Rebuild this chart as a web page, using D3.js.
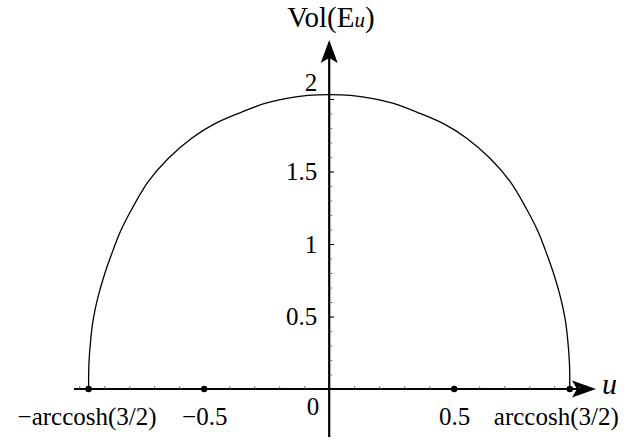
<!DOCTYPE html>
<html>
<head>
<meta charset="utf-8">
<script src="https://cdn.jsdelivr.net/npm/d3@7"></script>
<style>
  body { margin: 0; background: #fff; }
  svg { display: block; font-family: "Liberation Serif", "DejaVu Serif", serif; }
</style>
</head>
<body>
<svg id="chart" width="626" height="441"></svg>
<script>
// curve: u and Vol(E_u)
const uValues = [
  -0.9624, -0.961, -0.954, -0.944, -0.924, -0.897, -0.864, -0.837, -0.79,
  -0.724, -0.644, -0.55, -0.457, -0.35, -0.257, -0.17, -0.085, 0,
  0.085, 0.17, 0.257, 0.35, 0.457, 0.55, 0.644, 0.724, 0.79,
  0.837, 0.864, 0.897, 0.924, 0.944, 0.954, 0.961, 0.9624
];
const volValues = [
  0, 0.18, 0.34, 0.48, 0.64, 0.8, 0.96, 1.08, 1.24,
  1.43, 1.59, 1.73, 1.83, 1.91, 1.97, 2.005, 2.025, 2.03,
  2.025, 2.005, 1.97, 1.91, 1.83, 1.73, 1.59, 1.43, 1.24,
  1.08, 0.96, 0.8, 0.64, 0.48, 0.34, 0.18, 0
];
const xTicks = [-0.9624, -0.5, 0.5, 0.9624];
const xTickLabels = ["\u2212arccosh(3/2)", "\u22120.5", "0.5", "arccosh(3/2)"];
const yTicks = [0.5, 1, 1.5, 2];
const yTickLabels = ["0.5", "1", "1.5", "2"];

const svg = d3.select("#chart");
const x = d3.scaleLinear().domain([-1, 1]).range([79.2, 579.2]);
const y = d3.scaleLinear().domain([0, 2]).range([389, 99]);
const x0 = x(0);
const y0 = y(0);

// axis lines with arrow heads
svg.append("line")
  .attr("x1", 74).attr("x2", 580)
  .attr("y1", y0).attr("y2", y0)
  .attr("stroke", "#000").attr("stroke-width", 2.2);
svg.append("path")
  .attr("d", `M596,${y0} L572,${y0 - 8.5} L577,${y0} L572,${y0 + 8.5} Z`)
  .attr("fill", "#000");

svg.append("line")
  .attr("x1", x0).attr("x2", x0)
  .attr("y1", 437).attr("y2", 56)
  .attr("stroke", "#000").attr("stroke-width", 2.2);
svg.append("path")
  .attr("d", `M${x0},40 L${x0 - 8.5},63 L${x0},58 L${x0 + 8.5},63 Z`)
  .attr("fill", "#000");

// minor ticks
const minorX = d3.range(-10, 11).filter((i) => i !== 0).map((i) => i / 10);
svg.append("g")
  .attr("transform", `translate(0,${y0})`)
  .call(d3.axisTop(x).tickValues(minorX).tickSize(3).tickFormat(""))
  .call((g) => g.select(".domain").remove())
  .selectAll("line").attr("stroke", "#555").attr("stroke-width", 0.8);

const minorY = d3.range(1, 21).map((i) => i / 10);
svg.append("g")
  .attr("transform", `translate(${x0},0)`)
  .call(d3.axisRight(y).tickValues(minorY).tickSize(3).tickFormat(""))
  .call((g) => g.select(".domain").remove())
  .selectAll("line").attr("stroke", "#555").attr("stroke-width", 0.8);

svg.append("g")
  .attr("transform", `translate(${x0},0)`)
  .call(d3.axisRight(y).tickValues(yTicks).tickSize(5).tickFormat(""))
  .call((g) => g.select(".domain").remove())
  .selectAll("line").attr("stroke", "#000").attr("stroke-width", 1);

// y tick labels
const yAxis = svg.append("g")
  .attr("transform", `translate(${x0 - 12},0)`)
  .call(d3.axisLeft(y).tickValues(yTicks).tickSize(0).tickPadding(0)
    .tickFormat((d, i) => yTickLabels[i]));
yAxis.select(".domain").remove();
yAxis.selectAll("text")
  .attr("font-family", "Liberation Serif")
  .attr("font-size", 25)
  .attr("fill", "#000")
  .attr("dy", (d) => (d === 2 ? "-0.33em" : "0.33em"));

// x tick labels
const xAxis = svg.append("g")
  .attr("transform", `translate(0,${y0})`)
  .call(d3.axisBottom(x).tickValues(xTicks).tickSize(0).tickPadding(0)
    .tickFormat((d, i) => xTickLabels[i]));
xAxis.select(".domain").remove();
xAxis.selectAll("text")
  .attr("font-family", "Liberation Serif")
  .attr("font-size", 25)
  .attr("fill", "#000")
  .attr("y", 36)
  .attr("dy", 0)
  .attr("dx", (d, i) => (i === xTicks.length - 1 ? -14 : i === 0 ? -2 : 0));

// dots on the u axis
svg.append("g")
  .selectAll("circle")
  .data(xTicks)
  .join("circle")
  .attr("cx", (d) => x(d))
  .attr("cy", y0)
  .attr("r", 3.2)
  .attr("fill", "#000");

// origin label
svg.append("text")
  .attr("x", x0 - 10)
  .attr("y", 415)
  .attr("text-anchor", "end")
  .attr("font-size", 25)
  .text("0");

// the curve
const points = uValues.map((u, i) => [u, volValues[i]]);
svg.append("path")
  .datum(points)
  .attr("fill", "none")
  .attr("stroke", "#000")
  .attr("stroke-width", 1.3)
  .attr("d", d3.line()
    .x((d) => x(d[0]))
    .y((d) => y(d[1]))
    .curve(d3.curveCatmullRom.alpha(0.5)));

// axis titles
const title = svg.append("text")
  .attr("x", 331)
  .attr("y", 27)
  .attr("text-anchor", "middle")
  .attr("font-size", 29);
title.append("tspan").text("Vol(E");
title.append("tspan").attr("font-style", "italic").attr("font-size", 21).text("u");
title.append("tspan").text(")");

svg.append("text")
  .attr("x", 602)
  .attr("y", 394)
  .attr("font-size", 30)
  .attr("font-style", "italic")
  .text("u");
</script>
</body>
</html>
